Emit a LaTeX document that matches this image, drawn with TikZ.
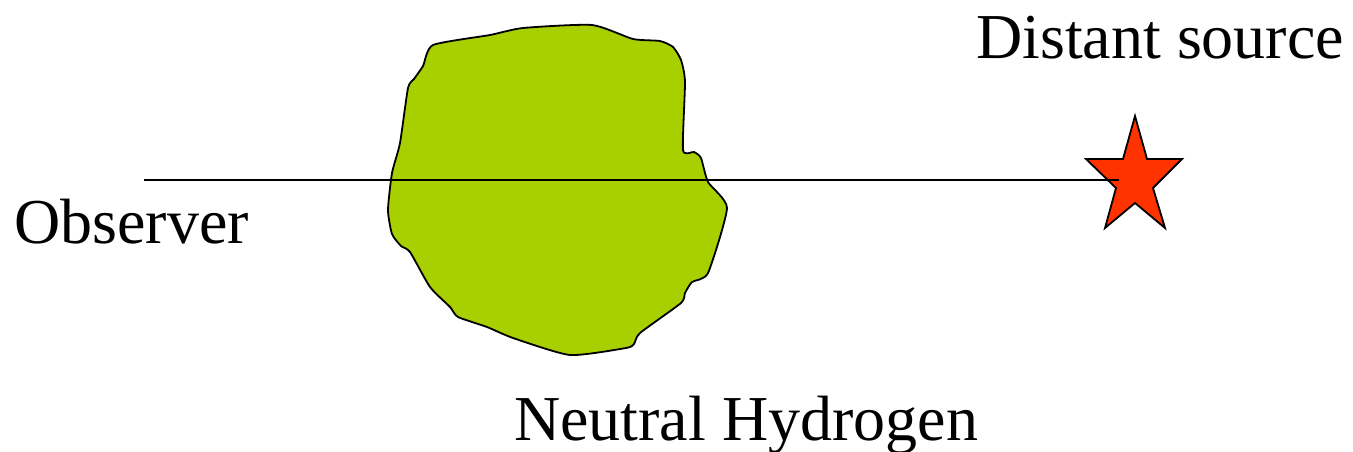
\documentclass[tikz,border=0pt]{standalone}
\usepackage{fontspec}
\setmainfont{Liberation Serif}
\begin{document}
\begin{tikzpicture}[x=1pt,y=-1pt,
  lbl/.style={font=\fontsize{64}{72}\selectfont, inner sep=0pt, anchor=base west},
  cloud/.style={fill={rgb,255:red,168;green,208;blue,0}, draw=black, line width=1.8pt, line join=round},
  starstyle/.style={fill={rgb,255:red,255;green,51;blue,0}, draw=black, line width=1.8pt, line join=miter},
  sightline/.style={draw=black, line width=2.2pt}]
\useasboundingbox (0,0) rectangle (1353,452);
% neutral hydrogen cloud
\draw[cloud] plot[smooth cycle, tension=0.35] coordinates {
 (433,45) (490,35) (523,28) (592,25) (633,39) (660,41) (673,47) (681,60) (685,82)
 (683,150) (694,152) (701,158) (708,182) (727,208) (708,273) (692,282) (685,293)
 (681,303) (640,333) (634,344) (626,348) (570,355) (513,338) (487,327) (458,317)
 (450,307) (430,287) (410,252) (401,246) (392,234) (388,210) (392,173) (400,143)
 (408,88) (414,79) (423,66)};
% star (distant source)
\draw[starstyle] (1135,116) -- (1147,159) -- (1182,159) -- (1153,188) -- (1165,228)
  -- (1135,203) -- (1105,228) -- (1116,188) -- (1086,159) -- (1123,159) -- cycle;
% line of sight
\coordinate (obs) at (144,180);
\coordinate (src) at (1119,180);
\draw[sightline] (obs) -- (src);
% labels
\node[lbl] (tdist) at (976,59) {Distant source};
\node[lbl] (tobs) at (14,243) {Observer};
\node[lbl] (thyd) at (514,440) {Neutral Hydrogen};
\end{tikzpicture}
\end{document}
